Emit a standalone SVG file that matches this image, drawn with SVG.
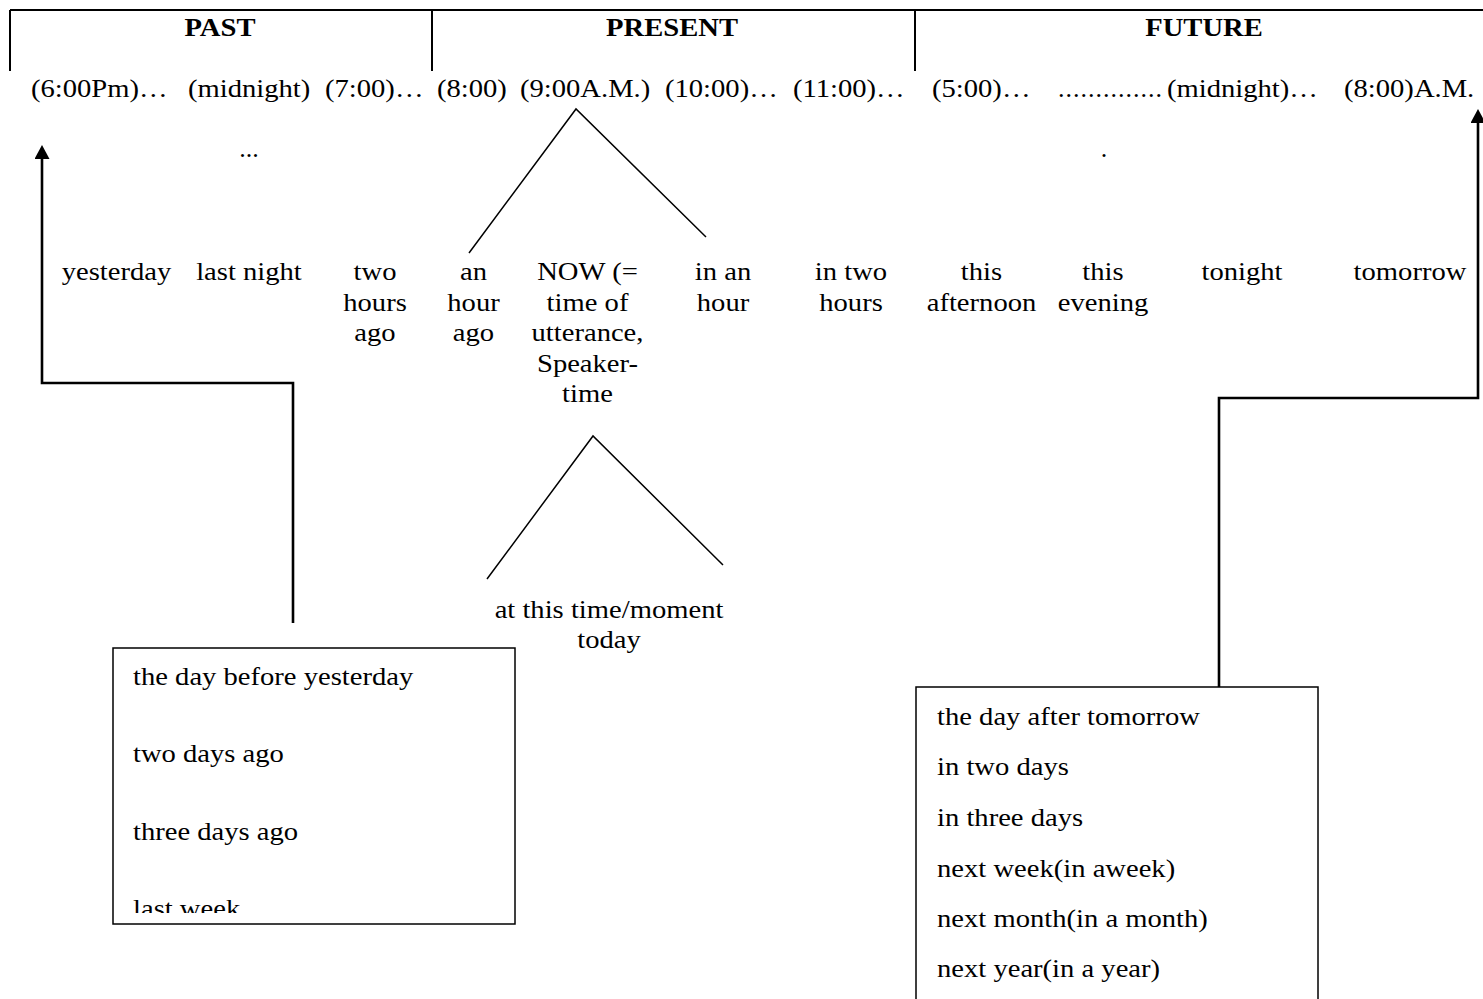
<svg xmlns="http://www.w3.org/2000/svg" width="1483" height="999" viewBox="0 0 1483 999">
<style>
text{font-family:"Liberation Serif","Times New Roman",serif;font-size:26px;fill:#000}
.b{font-weight:bold}
.m{text-anchor:middle}
.ln{fill:none;stroke:#000;stroke-width:2}
.tri{fill:none;stroke:#000;stroke-width:1.5}
.box{fill:#fff;stroke:#000;stroke-width:1.5}
.con{fill:none;stroke:#000;stroke-width:2.6}
</style>
<defs>
<marker id="ah" viewBox="0 0 14 15" refX="6" refY="7.5" markerWidth="14" markerHeight="15" markerUnits="userSpaceOnUse" orient="auto">
<path d="M0,0 L14,7.5 L0,15 z" fill="#000"/>
</marker>
<clipPath id="clipL"><rect x="113" y="648" width="402" height="265"/></clipPath>
</defs>
<rect width="1483" height="999" fill="#fff"/>

<g id="header">
<path class="ln" d="M10,10 H1483 M10,10 V71 M432,10 V71 M915,10 V71"/>
<text class="b m" transform="translate(220 0) scale(1.1 1)" x="0" y="36">PAST</text>
<text class="b m" transform="translate(672 0) scale(1.1 1)" x="0" y="36">PRESENT</text>
<text class="b m" transform="translate(1204 0) scale(1.1 1)" x="0" y="36">FUTURE</text>
</g>

<g id="timeline">
<text transform="translate(31 0) scale(1.1 1)" x="0" y="97">(6:00Pm)…</text>
<text transform="translate(188 0) scale(1.1 1)" x="0" y="97">(midnight)</text>
<text transform="translate(325 0) scale(1.1 1)" x="0" y="97">(7:00)…</text>
<text transform="translate(437 0) scale(1.1 1)" x="0" y="97">(8:00)</text>
<text transform="translate(520 0) scale(1.1 1)" x="0" y="97">(9:00A.M.)</text>
<text transform="translate(665 0) scale(1.1 1)" x="0" y="97">(10:00)…</text>
<text transform="translate(793 0) scale(1.1 1)" x="0" y="97">(11:00)…</text>
<text transform="translate(932 0) scale(1.1 1)" x="0" y="97">(5:00)…</text>
<text x="1058" y="97" textLength="104" lengthAdjust="spacing">..............</text>
<text transform="translate(1167 0) scale(1.1 1)" x="0" y="97">(midnight)…</text>
<text transform="translate(1344 0) scale(1.1 1)" x="0" y="97">(8:00)A.M.</text>
<text class="m" x="249" y="157">...</text>
<text class="m" x="1104" y="157">.</text>
</g>

<g id="n-yesterday"><text class="m" transform="translate(116.5 0) scale(1.1 1)" x="0" y="280">yesterday</text></g>
<g id="n-lastnight"><text class="m" transform="translate(249 0) scale(1.1 1)" x="0" y="280">last night</text></g>
<g id="n-twohoursago"><text class="m" transform="translate(375 0) scale(1.1 1)"><tspan x="0" y="280">two</tspan><tspan x="0" y="311">hours</tspan><tspan x="0" y="341">ago</tspan></text></g>
<g id="n-anhourago"><text class="m" transform="translate(473.5 0) scale(1.1 1)"><tspan x="0" y="280">an</tspan><tspan x="0" y="311">hour</tspan><tspan x="0" y="341">ago</tspan></text></g>
<g id="n-now"><text class="m" transform="translate(587.5 0) scale(1.1 1)"><tspan x="0" y="280">NOW (=</tspan><tspan x="0" y="311">time of</tspan><tspan x="0" y="341">utterance,</tspan><tspan x="0" y="372">Speaker-</tspan><tspan x="0" y="402">time</tspan></text></g>
<g id="n-inanhour"><text class="m" transform="translate(723 0) scale(1.1 1)"><tspan x="0" y="280">in an</tspan><tspan x="0" y="311">hour</tspan></text></g>
<g id="n-intwohours"><text class="m" transform="translate(851 0) scale(1.1 1)"><tspan x="0" y="280">in two</tspan><tspan x="0" y="311">hours</tspan></text></g>
<g id="n-thisafternoon"><text class="m" transform="translate(981.5 0) scale(1.1 1)"><tspan x="0" y="280">this</tspan><tspan x="0" y="311">afternoon</tspan></text></g>
<g id="n-thisevening"><text class="m" transform="translate(1103 0) scale(1.1 1)"><tspan x="0" y="280">this</tspan><tspan x="0" y="311">evening</tspan></text></g>
<g id="n-tonight"><text class="m" transform="translate(1242 0) scale(1.1 1)" x="0" y="280">tonight</text></g>
<g id="n-tomorrow"><text class="m" transform="translate(1410 0) scale(1.1 1)" x="0" y="280">tomorrow</text></g>

<g id="n-atthistime"><text class="m" transform="translate(609 0) scale(1.1 1)"><tspan x="0" y="618">at this time/moment</tspan><tspan x="0" y="648">today</tspan></text></g>

<g id="n-pastbox">
<rect class="box" x="113" y="648" width="402" height="276"/>
<g clip-path="url(#clipL)">
<text transform="translate(133 0) scale(1.1 1)"><tspan x="0" y="685">the day before yesterday</tspan><tspan x="0" y="762">two days ago</tspan><tspan x="0" y="840">three days ago</tspan><tspan x="0" y="917">last week</tspan></text>
</g>
</g>

<g id="n-futurebox">
<rect class="box" x="916" y="687" width="402" height="330"/>
<text transform="translate(937 0) scale(1.1 1)"><tspan x="0" y="725">the day after tomorrow</tspan><tspan x="0" y="775">in two days</tspan><tspan x="0" y="826">in three days</tspan><tspan x="0" y="877">next week(in aweek)</tspan><tspan x="0" y="927">next month(in a month)</tspan><tspan x="0" y="977">next year(in a year)</tspan></text>
</g>

<g id="connectors">
<path class="tri" d="M469,253 L576,109 L706,237"/>
<path class="tri" d="M487,579 L593,436 L723,565"/>
<path class="con" d="M293,623 V383 H42 V153" marker-end="url(#ah)"/>
<path class="con" d="M1219,687 V398 H1478 V117" marker-end="url(#ah)"/>
</g>
</svg>
